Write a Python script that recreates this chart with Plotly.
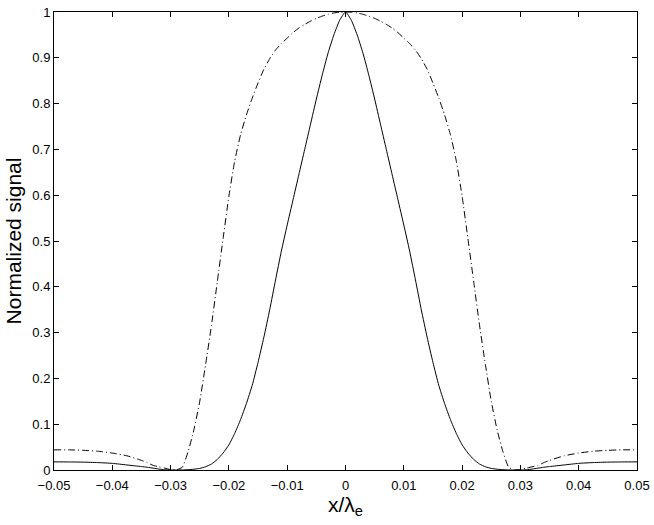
import plotly.graph_objects as go

x_vals = [-0.050, -0.0475, -0.045, -0.0425, -0.040, -0.0375, -0.035, -0.034, -0.033, -0.032,
          -0.031, -0.030, -0.029, -0.028, -0.027, -0.026, -0.025, -0.024, -0.023, -0.022,
          -0.021, -0.020, -0.019, -0.018, -0.017, -0.016, -0.015, -0.014, -0.013, -0.012,
          -0.011, -0.010, -0.009, -0.008, -0.007, -0.006, -0.005, -0.004, -0.003, -0.002,
          -0.001, 0.0,
          0.001, 0.002, 0.003, 0.004, 0.005, 0.006, 0.007, 0.008, 0.009, 0.010,
          0.011, 0.012, 0.013, 0.014, 0.015, 0.016, 0.017, 0.018, 0.019, 0.020,
          0.021, 0.022, 0.023, 0.024, 0.025, 0.026, 0.027, 0.028, 0.029, 0.030,
          0.031, 0.032, 0.033, 0.034, 0.035, 0.0375, 0.040, 0.0425, 0.045, 0.0475, 0.050]

solid_signal = [0.0177, 0.0176, 0.0172, 0.0162, 0.0145, 0.011, 0.0075, 0.006, 0.004, 0.002,
                0.0005, 0.0, 0.0, 0.0002, 0.0007, 0.0017, 0.0035, 0.007, 0.013, 0.023,
                0.037, 0.055, 0.08, 0.11, 0.145, 0.185, 0.235, 0.29, 0.35, 0.415,
                0.478, 0.535, 0.59, 0.645, 0.70, 0.755, 0.81, 0.862, 0.91, 0.95,
                0.982, 1.0,
                0.982, 0.95, 0.91, 0.862, 0.81, 0.755, 0.70, 0.645, 0.59, 0.535,
                0.478, 0.415, 0.35, 0.29, 0.235, 0.185, 0.145, 0.11, 0.08, 0.055,
                0.037, 0.023, 0.013, 0.007, 0.0035, 0.0017, 0.0007, 0.0002, 0.0, 0.0,
                0.0005, 0.002, 0.004, 0.006, 0.0075, 0.011, 0.0145, 0.0162, 0.0172, 0.0176, 0.0177]

dashdot_signal = [0.044, 0.044, 0.043, 0.041, 0.037, 0.031, 0.021, 0.016, 0.010, 0.007,
                  0.004, 0.001, 0.0005, 0.006, 0.04, 0.088, 0.15, 0.23, 0.315, 0.41,
                  0.505, 0.598, 0.675, 0.732, 0.775, 0.812, 0.845, 0.875, 0.898, 0.917,
                  0.931, 0.943, 0.955, 0.965, 0.973, 0.98, 0.986, 0.991, 0.995, 0.998,
                  0.9995, 1.0,
                  0.9995, 0.998, 0.995, 0.991, 0.986, 0.98, 0.973, 0.965, 0.955, 0.943,
                  0.931, 0.917, 0.898, 0.875, 0.845, 0.812, 0.775, 0.732, 0.675, 0.598,
                  0.505, 0.41, 0.315, 0.23, 0.15, 0.088, 0.04, 0.006, 0.0005, 0.001,
                  0.004, 0.007, 0.010, 0.016, 0.021, 0.031, 0.037, 0.041, 0.043, 0.044, 0.044]

x_ticks = [-0.05, -0.04, -0.03, -0.02, -0.01, 0, 0.01, 0.02, 0.03, 0.04, 0.05]
x_tick_labels = ["\u22120.05", "\u22120.04", "\u22120.03", "\u22120.02", "\u22120.01", "0",
                 "0.01", "0.02", "0.03", "0.04", "0.05"]
y_ticks = [0, 0.1, 0.2, 0.3, 0.4, 0.5, 0.6, 0.7, 0.8, 0.9, 1]
y_tick_labels = ["0", "0.1", "0.2", "0.3", "0.4", "0.5", "0.6", "0.7", "0.8", "0.9", "1"]

font_family = "Liberation Sans, Arial, Helvetica, sans-serif"

fig = go.Figure()
fig.add_trace(go.Scatter(x=x_vals, y=dashdot_signal, mode="lines",
                         line=dict(color="black", width=1, dash="7px,3px,1px,3px",
                                   shape="spline", smoothing=0.5),
                         showlegend=False))
fig.add_trace(go.Scatter(x=x_vals, y=solid_signal, mode="lines",
                         line=dict(color="black", width=1, shape="spline", smoothing=0.5),
                         showlegend=False))

axis_common = dict(showgrid=False, zeroline=False, showline=True, linecolor="black",
                   linewidth=1, mirror="ticks", ticks="inside", ticklen=5,
                   tickcolor="black", tickwidth=1,
                   tickfont=dict(family=font_family, size=13, color="black"))

fig.update_xaxes(range=[-0.05, 0.05], tickvals=x_ticks, ticktext=x_tick_labels,
                 ticklabelstandoff=3,
                 title=dict(text="x/\u03bb<sub>e</sub>", font=dict(family=font_family, size=21, color="black"),
                            standoff=1),
                 **axis_common)
fig.update_yaxes(range=[0, 1], tickvals=y_ticks, ticktext=y_tick_labels,
                 title=dict(text="Normalized signal", font=dict(family=font_family, size=21, color="black"),
                            standoff=4),
                 **axis_common)

fig.update_layout(width=654, height=525, plot_bgcolor="white", paper_bgcolor="white",
                  margin=dict(l=54, r=17, t=12, b=55, autoexpand=False))

fig.write_html("out.html", config={"displayModeBar": False},
               post_script="document.body.style.margin='0';document.body.style.padding='0';")
